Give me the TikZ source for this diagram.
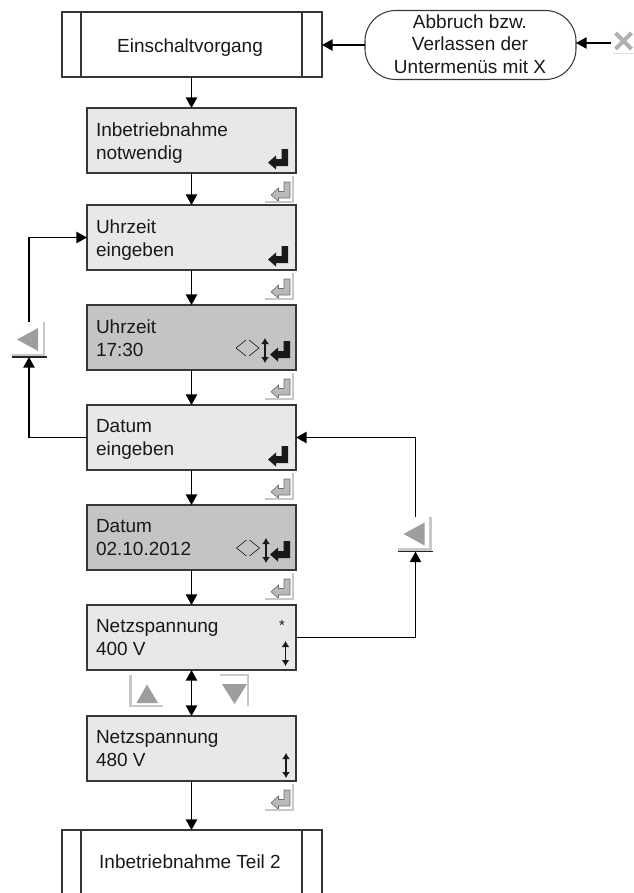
\documentclass[tikz,border=0pt]{standalone}
\usepackage{fontspec}
\setmainfont{Liberation Sans}
\usetikzlibrary{arrows.meta}

\definecolor{boxlight}{RGB}{232,232,232}
\definecolor{boxdark}{RGB}{196,196,196}
\definecolor{framecol}{RGB}{55,55,55}
\definecolor{btnedge}{RGB}{200,200,200}
\definecolor{btnfill}{RGB}{158,158,158}
\definecolor{glyphline}{RGB}{110,110,110}
\definecolor{glyphfill}{RGB}{185,185,185}
\definecolor{ink}{RGB}{25,25,25}

\begin{document}
\begin{tikzpicture}[x=0.75pt,y=-0.75pt,
  every node/.style={inner sep=0pt, outer sep=0pt},
  menubox/.style={draw=framecol, line width=0.8pt, minimum width=156.75pt, minimum height=48.75pt},
  lightbox/.style={menubox, fill=boxlight},
  darkbox/.style={menubox, fill=boxdark},
  subbox/.style={draw=framecol, line width=0.8pt, fill=white, minimum width=195pt},
  pillbox/.style={draw=framecol, line width=0.8pt, fill=white, rounded corners=23pt,
    minimum width=158.25pt, minimum height=51.75pt},
  boxtext/.style={anchor=north west, align=left, text=ink,
    font=\fontsize{14.25}{17.6}\selectfont},
  centertext/.style={anchor=base, text=ink, font=\fontsize{14.25}{17.6}\selectfont},
  flow/.style={draw=black, line width=1.1pt, -{Triangle[length=8pt,width=8.5pt]}},
  twoway/.style={draw=black, line width=1.1pt,
    {Triangle[length=8pt,width=8.5pt]}-{Triangle[length=8pt,width=8.5pt]}},
  % black return key shown inside a menu box (origin: lower right corner of the glyph)
  enterkey/.pic={
    \fill[ink] (0,0) -- (0,-17) -- (-6.5,-17) -- (-6.5,-7) -- (-12,-7) -- (-12,-10.5)
      -- (-20,-3.5) -- (-12,3.5) -- (-12,0) -- cycle;
  },
  % grey return button between two menu boxes
  enterbtn/.pic={
    \filldraw[fill=glyphfill, draw=glyphline, line width=0.45pt]
      (0,0) -- (0,-16) -- (-6,-16) -- (-6,-6.5) -- (-11.5,-6.5) -- (-11.5,-10)
      -- (-19,-3.25) -- (-11.5,3.5) -- (-11.5,0) -- cycle;
    \draw[btnedge, line width=1.3pt] (3,-22) -- (3,4) -- (-25,4);
  },
  % vertical double arrow of the up/down keys
  updown/.pic={
    \draw[ink, line width=1pt, {Latex[length=4.5pt,width=6pt]}-{Latex[length=4.5pt,width=6pt]}]
      (0,-12.5) -- (0,12.5);
  },
  % left/right keys
  chevrons/.pic={
    \draw[ink, line width=0.45pt] (-1.5,-8) -- (-11.5,0) -- (-1.5,8)
      (1.5,-8) -- (11.5,0) -- (1.5,8);
  },
  % grey "back" button with its frame node
  backbtn/.pic={
    \node[minimum width=26.25pt, minimum height=26.25pt] (-f) {};
    \fill[btnfill] (-12,0) -- (9,-11.5) -- (9,11.5) -- cycle;
    \draw[btnedge, line width=2pt] (15,-17.5) -- (15,15.5) -- (-17.5,15.5);
    \draw[black!85, line width=1pt] (-17.5,17.5) -- (17.5,17.5);
  },
  upbtn/.pic={
    \draw[btnedge, line width=1.6pt] (-16,-15.5) -- (-16,15.5) -- (16.5,15.5);
    \fill[btnfill] (0.5,-6) -- (11.5,12.5) -- (-10,12.5) -- cycle;
  },
  downbtn/.pic={
    \draw[btnedge, line width=1.6pt] (-14,-15.5) -- (14,-15.5) -- (14,15.5);
    \fill[btnfill] (-12,-6.5) -- (13,-6.5) -- (0.5,13.5) -- cycle;
  },
  cancelbtn/.pic={
    \draw[btnfill!80, line width=3pt] (-8,-8) -- (8,8) (-8,8) -- (8,-8);
    \draw[black!12, line width=0.6pt] (-11,12) -- (11,12);
  }
]
\useasboundingbox (0,0) rectangle (634,893);
\clip (0,0) rectangle (634,893);

% start block and cancel hint
\node[subbox, minimum height=48.75pt] (b0) at (192,44.5) {};
\draw[framecol, line width=0.8pt] (81,12) -- (81,77) (302,12) -- (302,77);
\node[centertext] (t0) at (190,52) {Einschaltvorgang};

\node[pillbox] (pill) at (470.5,45) {};
\node[anchor=north, align=center, text=ink, font=\fontsize{14.25}{16.9}\selectfont]
  (pilltext) at (470,14.4) {Abbruch bzw.\\Verlassen der\\Untermenüs mit X};

\pic at (623.5,41) {cancelbtn};
\coordinate (xkey) at (611,43);

% menu boxes
\node[lightbox] (b1) at (191.5,140.5) {};
\node[lightbox] (b2) at (191.5,237.5) {};
\node[darkbox]  (b3) at (191.5,337.5) {};
\node[lightbox] (b4) at (191.5,437.5) {};
\node[darkbox]  (b5) at (191.5,537.5) {};
\node[lightbox] (b6) at (191.5,637.5) {};
\node[lightbox] (b7) at (191.5,748.5) {};

\node[boxtext] (t1) at (96,122.4) {Inbetriebnahme\\notwendig};
\node[boxtext] (t2) at (96,219.4) {Uhrzeit\\eingeben};
\node[boxtext] (t3) at (96,319.4) {Uhrzeit\\17:30};
\node[boxtext] (t4) at (96,419.4) {Datum\\eingeben};
\node[boxtext] (t5) at (96,519.4) {Datum\\02.10.2012};
\node[boxtext] (t6) at (96,619.4) {Netzspannung\\400 V};
\node[boxtext] (t7) at (96,730.4) {Netzspannung\\480 V};

% end block
\node[subbox, minimum height=67.5pt] (b8) at (192,875) {};
\draw[framecol, line width=0.8pt] (81,830) -- (81,920) (302,830) -- (302,920);
\node[centertext] (t8) at (190,868) {Inbetriebnahme Teil 2};

% key symbols inside the boxes
\pic at (288,166) {enterkey};
\pic at (288,263) {enterkey};
\pic at (247.5,348) {chevrons};
\pic at (265,350.5) {updown};
\pic at (290,358) {enterkey};
\pic at (288,463) {enterkey};
\pic at (248,548) {chevrons};
\pic at (266,550.5) {updown};
\pic at (290,558) {enterkey};
\node[anchor=base, text=ink, font=\fontsize{11}{11}\selectfont] (star) at (282,630.5) {*};
\pic at (285.5,653.5) {updown};
\pic at (286,765.5) {updown};

% return buttons between the boxes
\pic at (290,198) {enterbtn};
\pic at (290,295) {enterbtn};
\pic at (290,395) {enterbtn};
\pic at (290,495) {enterbtn};
\pic at (290,595) {enterbtn};
\pic at (290,806) {enterbtn};

% up/down buttons
\pic at (146.5,690.5) {upbtn};
\pic at (234,690.5) {downbtn};

% back buttons
\pic (bl) at (29,339.5) {backbtn};
\pic (br) at (415.5,534) {backbtn};

% main flow
\draw[flow] (b1.north |- b0.south) -- (b1.north);
\draw[flow] (b1.south) -- (b2.north);
\draw[flow] (b2.south) -- (b3.north);
\draw[flow] (b3.south) -- (b4.north);
\draw[flow] (b4.south) -- (b5.north);
\draw[flow] (b5.south) -- (b6.north);
\draw[twoway] (b6.south) -- (b7.north);
\draw[flow] (b7.south) -- (b7.south |- b8.north);

% cancel path
\draw[flow] (pill.west) -- (pill.west -| b0.east);
\draw[flow] (xkey) -- (xkey -| pill.east);

% back paths
\draw[flow] (b4.west) -| (bl-f.south);
\draw[flow] (bl-f.north) |- (b2.west);
\draw[flow] (b6.east) -| (br-f.south);
\draw[flow] (br-f.north) |- (b4.east);
\end{tikzpicture}
\end{document}
